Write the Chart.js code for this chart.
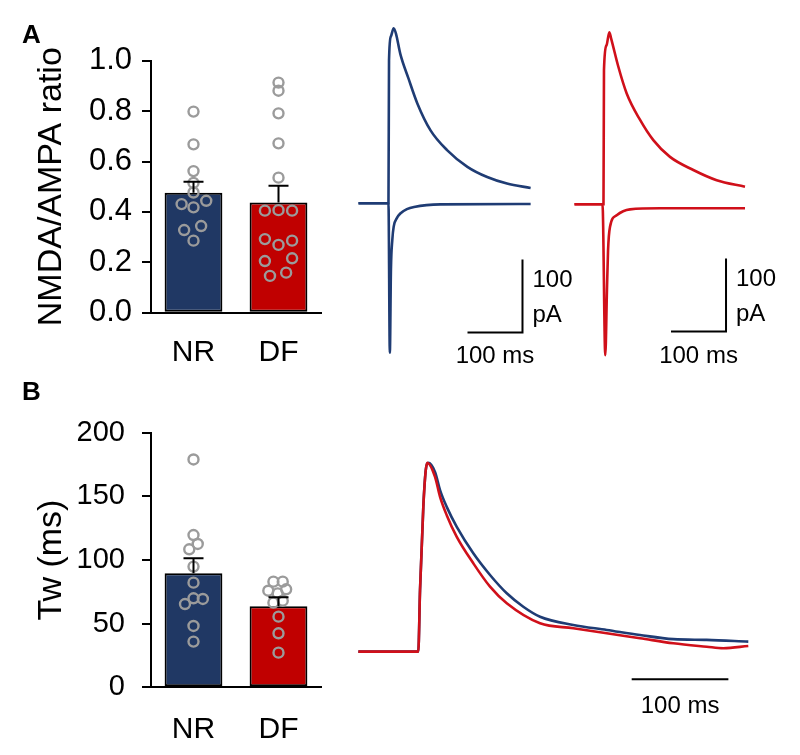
<!DOCTYPE html>
<html>
<head>
<meta charset="utf-8">
<script src="https://cdn.jsdelivr.net/npm/chart.js@4"></script>
<style>
  body { margin: 0; background: #fff; }
  #fig { position: relative; width: 800px; height: 755px; overflow: hidden; font-family: "Liberation Sans", Arial, sans-serif; }
  #fig canvas { position: absolute; }
  .panel { position: absolute; font-weight: bold; font-size: 26px; line-height: 1; }
</style>
</head>
<body>
<div id="fig">
  <canvas id="barA" width="340" height="380" style="left:0;top:0"></canvas>
  <canvas id="barB" width="340" height="375" style="left:0;top:380px"></canvas>
  <canvas id="traceNR" width="245" height="350" style="left:342px;top:21px"></canvas>
  <canvas id="traceDF" width="242" height="350" style="left:558px;top:22px"></canvas>
  <canvas id="traceB" width="421" height="302" style="left:339px;top:444px"></canvas>
  <div class="panel" style="left:22px;top:21px">A</div>
  <div class="panel" style="left:22px;top:378px">B</div>
</div>
<script>
// group labels
const groups = ['NR', 'DF'];

// A: NMDA/AMPA ratio
const ratioTicks = [0, 0.2, 0.4, 0.6, 0.8, 1.0];
const ratioMean = [0.476, 0.437];
const ratioSem = [0.044, 0.067];
const ratioNR = [0.798, 0.668, 0.562, 0.515, 0.477, 0.444, 0.431, 0.418, 0.344, 0.328, 0.286];
const ratioNRJitter = [0, 0, 0, 0, 0, 0.15, -0.14, 0, 0.09, -0.11, 0];
const ratioDF = [0.913, 0.881, 0.791, 0.672, 0.536, 0.405, 0.407, 0.405, 0.292, 0.269, 0.286, 0.205, 0.216, 0.146, 0.159];
const ratioDFJitter = [0, 0, 0, 0, 0, -0.16, 0, 0.16, -0.16, 0, 0.16, -0.16, 0.16, -0.1, 0.09];

// B: decay time constant Tw (ms)
const twTicks = [0, 50, 100, 150, 200];
const twMean = [89.5, 63.6];
const twSem = [11.8, 7.1];
const twNR = [179, 119.6, 112.6, 108.4, 94.8, 82.2, 69.9, 69.4, 65.4, 48.2, 35.9];
const twNRJitter = [0, 0, 0.05, -0.05, 0, 0, 0, 0.11, -0.1, 0, 0];
const twDF = [83, 83, 77, 75.9, 73.8, 68, 66.5, 55.5, 42.4, 27.2];
const twDFJitter = [-0.06, 0.05, 0.09, -0.12, -0.01, 0.05, -0.06, 0, 0, 0];

// A traces, time (ms) and current (pA)
const nrNmdaT = [0, 54.5, 55.5, 59, 64, 68, 76, 91, 107, 131, 161, 198, 234, 270, 313];
const nrNmdaI = [0, 0, 196, 229, 240, 233, 205, 171, 137, 100, 73, 50, 36, 27, 21];
const nrAmpaT = [0, 54.5, 57, 59, 61.5, 64, 70, 76, 88, 101, 149, 313];
const nrAmpaI = [0, 0, -205, -90, -50, -32, -20, -14, -8, -5, -1.5, -1];
const dfNmdaT = [0, 52.7, 53.6, 58.2, 63.3, 66.4, 79.6, 94.9, 119, 143.3, 173.6, 216, 258.5, 310];
const dfNmdaI = [0, 0, 184, 218, 236, 228, 189, 152, 116, 88, 65, 47, 33, 24];
const dfAmpaT = [0, 50.9, 56, 59, 61, 64.5, 76.7, 101, 155.5, 310];
const dfAmpaI = [0, 0, -207, -118, -63, -31, -15, -7, -5.5, -5.5];

// B traces, time (ms) and normalised current
const nrTwT = [0, 62, 63.8, 67.2, 69.7, 72.4, 79.3, 84.5, 91.4, 101.8, 118.9, 136.2, 153.5, 170.6, 187.9, 222.3, 256.9, 291.3, 325.8, 360.3, 403.3];
const nrTwI = [0, 0, 0.326, 0.767, 0.96, 1.0, 0.952, 0.856, 0.767, 0.661, 0.521, 0.406, 0.309, 0.238, 0.185, 0.141, 0.115, 0.088, 0.066, 0.062, 0.053];
const dfTwT = [0, 62, 63.8, 67.2, 69.7, 71.4, 79.3, 84.5, 91.4, 101.8, 118.9, 136.2, 153.5, 187.9, 222.3, 256.9, 291.3, 325.8, 360.3, 377.5, 403.3];
const dfTwI = [0, 0, 0.326, 0.767, 0.96, 1.0, 0.926, 0.82, 0.723, 0.608, 0.468, 0.344, 0.256, 0.15, 0.124, 0.097, 0.071, 0.044, 0.026, 0.018, 0.03];

const NAVY = '#203864';
const RED = '#c00000';
const TRACE_BLUE = '#1f3c74';
const TRACE_RED = '#d0101a';
const FONT = '"Liberation Sans", Arial, sans-serif';

Chart.defaults.font.family = FONT;
Chart.defaults.color = '#000';

// SEM whiskers on top of the bars
const errorBars = {
    id: 'errorBars',
    afterDatasetsDraw(chart, args, opts) {
        const meta = chart.getDatasetMeta(opts.datasetIndex);
        const y = chart.scales.y;
        const ctx = chart.ctx;
        ctx.save();
        ctx.strokeStyle = '#000';
        ctx.lineWidth = 2;
        meta.data.forEach((bar, i) => {
            const top = y.getPixelForValue(opts.mean[i] + opts.sem[i]);
            ctx.beginPath();
            ctx.moveTo(bar.x, bar.y);
            ctx.lineTo(bar.x, top);
            ctx.moveTo(bar.x - 10, top);
            ctx.lineTo(bar.x + 10, top);
            ctx.stroke();
        });
        ctx.restore();
    }
};

// L-shaped scale bar drawn in data units
const scaleBar = {
    id: 'scaleBar',
    afterDraw(chart, args, o) {
        const { ctx, scales: { x, y } } = chart;
        const x1 = x.getPixelForValue(o.t);
        const x0 = x.getPixelForValue(o.t - o.ms);
        const y0 = y.getPixelForValue(o.v);
        ctx.save();
        ctx.strokeStyle = '#000';
        ctx.lineWidth = 2;
        ctx.beginPath();
        ctx.moveTo(x0, y0);
        ctx.lineTo(x1, y0);
        let y1 = null;
        if (o.pA) {
            y1 = y.getPixelForValue(o.v + o.pA);
            ctx.lineTo(x1, y1);
        }
        ctx.stroke();
        ctx.fillStyle = '#000';
        ctx.font = '24px ' + FONT;
        ctx.textBaseline = 'middle';
        ctx.textAlign = 'center';
        ctx.fillText(o.ms + ' ms', (x0 + x1) / 2, y0 + o.labelGap);
        if (y1 !== null) {
            ctx.textAlign = 'left';
            ctx.fillText(String(o.pA), x1 + 10, y1 + 21);
            ctx.fillText('pA', x1 + 10, y1 + 56);
        }
        ctx.restore();
    }
};

function barChart(id, opt) {
    const pts = opt.nr.map((v, i) => ({ x: opt.nrJitter[i], y: v }))
        .concat(opt.df.map((v, i) => ({ x: 1 + opt.dfJitter[i], y: v })));
    return new Chart(document.getElementById(id), {
        type: 'bar',
        data: {
            labels: groups,
            datasets: [
                {
                    type: 'scatter',
                    data: pts,
                    xAxisID: 'xs',
                    yAxisID: 'y',
                    order: 1,
                    pointRadius: 5,
                    pointBorderWidth: 2.4,
                    pointBorderColor: '#9b9b9b',
                    pointBackgroundColor: 'rgba(0,0,0,0)'
                },
                {
                    type: 'bar',
                    data: opt.mean,
                    xAxisID: 'x',
                    yAxisID: 'y',
                    order: 2,
                    grouped: false,
                    backgroundColor: [NAVY, RED],
                    borderColor: '#000',
                    borderWidth: 2,
                    borderSkipped: false,
                    barPercentage: 0.68,
                    categoryPercentage: 1
                }
            ]
        },
        options: {
            responsive: false,
            animation: false,
            events: [],
            layout: { padding: opt.padding },
            plugins: {
                legend: { display: false },
                tooltip: { enabled: false },
                errorBars: { datasetIndex: 1, mean: opt.mean, sem: opt.sem }
            },
            scales: {
                x: {
                    type: 'category',
                    offset: true,
                    grid: { display: false, drawTicks: false },
                    border: { display: true, color: '#000', width: 2 },
                    ticks: { padding: opt.catPad, font: { size: 30 } },
                    afterFit: s => { s.height = 62; }
                },
                xs: { type: 'linear', display: false, offset: false, grid: { offset: false }, min: -0.5, max: 1.5 },
                y: {
                    min: 0,
                    max: opt.ticks[opt.ticks.length - 1],
                    afterBuildTicks: s => { s.ticks = opt.ticks.map(v => ({ value: v })); },
                    grid: { display: true, drawOnChartArea: false, drawTicks: true, tickLength: 9, color: '#000', lineWidth: 2 },
                    border: { display: true, color: '#000', width: 2 },
                    ticks: { padding: opt.tickPad, font: { size: opt.tickSize }, callback: v => v.toFixed(opt.decimals) },
                    title: { display: true, text: opt.title, font: { size: 34 }, padding: { top: 11, bottom: 0 } },
                    afterFit: s => { s.width = 131; }
                }
            }
        },
        plugins: [errorBars]
    });
}

function traceChart(id, series, xr, yr, bar) {
    return new Chart(document.getElementById(id), {
        type: 'line',
        data: {
            datasets: series.map(s => ({
                data: s.t.map((t, i) => ({ x: t, y: s.v[i] })),
                borderColor: s.color,
                borderWidth: 2.6,
                pointRadius: 0,
                cubicInterpolationMode: 'monotone',
                fill: false
            }))
        },
        options: {
            responsive: false,
            animation: false,
            events: [],
            layout: { padding: 0 },
            plugins: { legend: { display: false }, tooltip: { enabled: false }, scaleBar: bar },
            scales: {
                x: { type: 'linear', display: false, min: xr[0], max: xr[1] },
                y: { type: 'linear', display: false, min: yr[0], max: yr[1] }
            }
        },
        plugins: [scaleBar]
    });
}

barChart('barA', {
    mean: ratioMean, sem: ratioSem,
    nr: ratioNR, nrJitter: ratioNRJitter, df: ratioDF, dfJitter: ratioDFJitter,
    ticks: ratioTicks, decimals: 1, title: 'NMDA/AMPA ratio', tickSize: 31, tickPad: 10, catPad: 22,
    padding: { left: 20, top: 60.7, right: 19, bottom: 5.3 }
});

barChart('barB', {
    mean: twMean, sem: twSem,
    nr: twNR, nrJitter: twNRJitter, df: twDF, dfJitter: twDFJitter,
    ticks: twTicks, decimals: 0, title: 'Tw (ms)', tickSize: 29, tickPad: 17, catPad: 24,
    padding: { left: 20, top: 52.7, right: 19, bottom: 5.7 }
});

traceChart('traceNR', [
    { t: nrNmdaT, v: nrNmdaI, color: TRACE_BLUE },
    { t: nrAmpaT, v: nrAmpaI, color: TRACE_BLUE }
], [-30, 415.5], [-230, 250], { t: 298.2, v: -177.2, ms: 100, pA: 100, labelGap: 24 });

traceChart('traceDF', [
    { t: dfNmdaT, v: dfNmdaI, color: TRACE_RED },
    { t: dfAmpaT, v: dfAmpaI, color: TRACE_RED }
], [-30, 410], [-230, 250], { t: 275.5, v: -174.5, ms: 100, pA: 100, labelGap: 25 });

traceChart('traceB', [
    { t: dfTwT, v: dfTwI, color: TRACE_RED },
    { t: nrTwT, v: nrTwI, color: TRACE_BLUE }
], [-20, 415.4], [-0.5, 1.1], { t: 382.7, v: -0.146, ms: 100, pA: 0, labelGap: 27 });
</script>
</body>
</html>
